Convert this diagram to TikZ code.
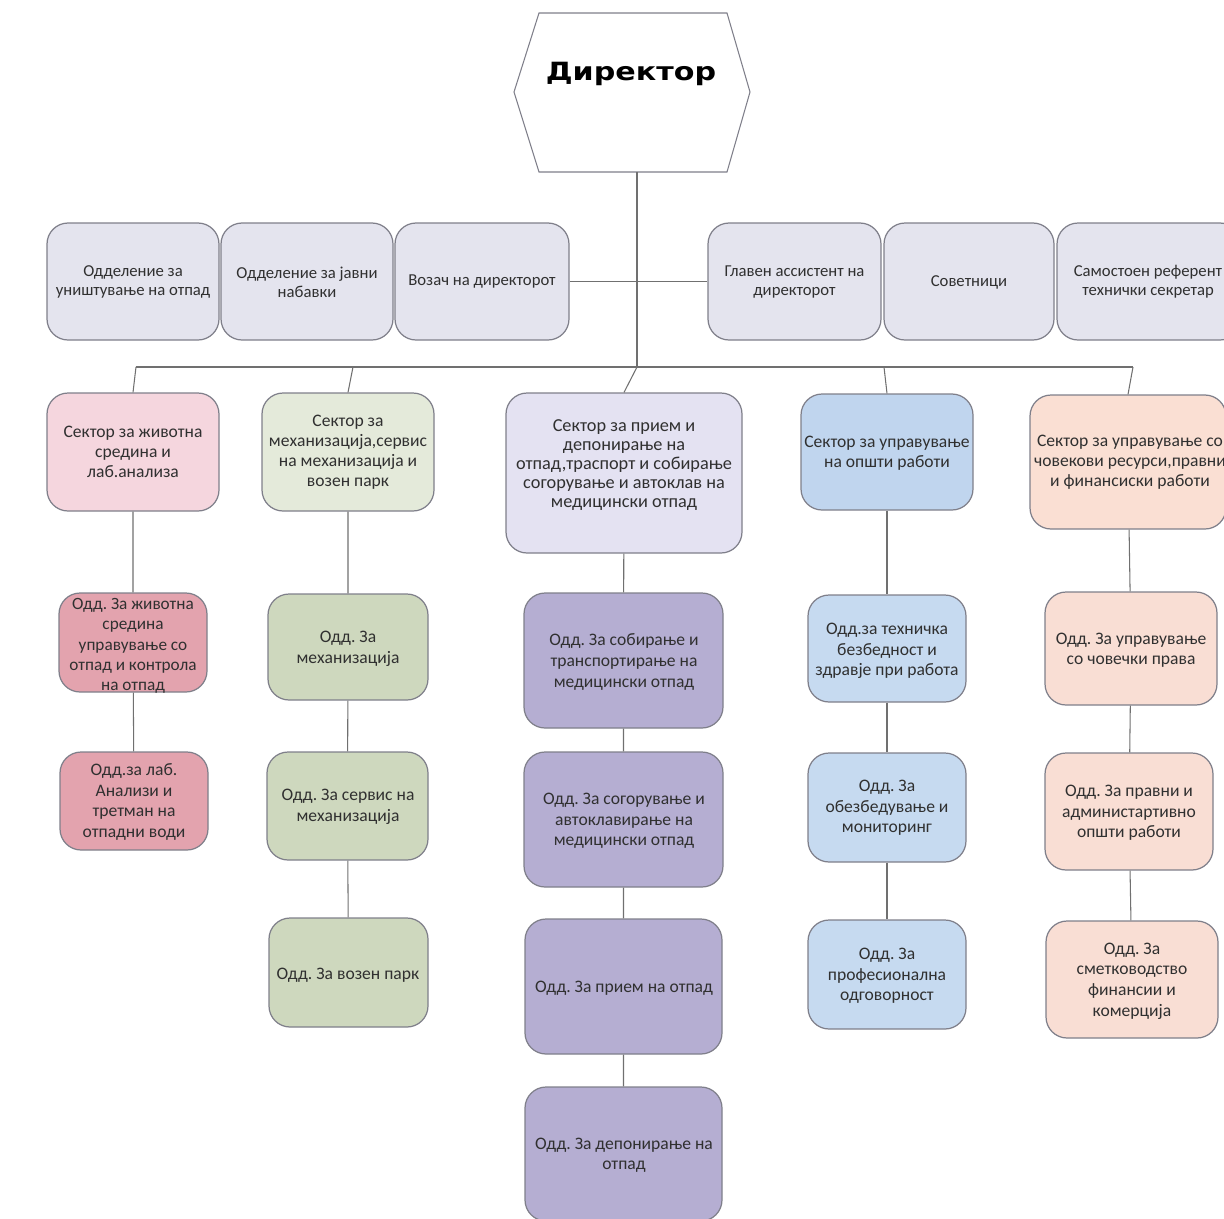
\documentclass[tikz,border=0pt]{standalone}
\usepackage{fontspec}
\setmainfont{Carlito}
\newfontfamily\dirfont{DejaVu Sans}[FakeStretch=1.2]
\frenchspacing
\definecolor{boxgray}{HTML}{E4E4EE}
\definecolor{edgegray}{HTML}{7F7F8A}
\definecolor{linegray}{HTML}{707070}
\definecolor{txtgray}{HTML}{303030}
\definecolor{secpink}{HTML}{F5D6DE}
\definecolor{secgreen}{HTML}{E4EADA}
\definecolor{seclav}{HTML}{E4E2F2}
\definecolor{secblue}{HTML}{C0D5EE}
\definecolor{secpeach}{HTML}{FADFD3}
\definecolor{odpink}{HTML}{E3A3AE}
\definecolor{odgreen}{HTML}{CED8BE}
\definecolor{odpurple}{HTML}{B5AED2}
\definecolor{odblue}{HTML}{C6DAF0}
\definecolor{odpeach}{HTML}{F9DED4}
\tikzset{
  orgbox/.style 2 args={draw=edgegray,line width=0.7pt,rounded corners=12pt,inner sep=0pt,
    minimum width=#1*0.02cm,minimum height=#2*0.02cm},
  lbl/.style={align=center,text=txtgray,inner sep=0pt,font=\fontsize{10}{11.7}\selectfont},
  toplbl/.style={lbl,font=\fontsize{9.5}{10.8}\selectfont},
  seclbl/.style={lbl,font=\fontsize{10}{11.3}\selectfont},
  link/.style={draw=linegray,line width=0.6pt}
}

\begin{document}
\begin{tikzpicture}[x=0.02cm,y=-0.02cm]
\useasboundingbox (0,0) rectangle (1224,1218);
\clip (0,0) rectangle (1224,1218);

\draw[draw=edgegray,line width=0.6pt,fill=white] (539,13) -- (727,13) -- (750,92) -- (727,172)
  -- (539,172) -- (514,92) -- cycle;
\node[inner sep=0pt] (dir) at (631,74) {\dirfont\bfseries\fontsize{14.3}{16}\selectfont Директор};
\coordinate (dirb) at (637,172);

\node[orgbox={172}{117},fill=boxgray] (a1) at (133,281.5) {};
\node[orgbox={172}{117},fill=boxgray] (a2) at (307,281.5) {};
\node[orgbox={174}{117},fill=boxgray] (a3) at (482,281.5) {};
\node[orgbox={173}{117},fill=boxgray] (a4) at (794.5,281.5) {};
\node[orgbox={170}{117},fill=boxgray] (a5) at (969,281.5) {};
\node[orgbox={184}{117},fill=boxgray] (a6) at (1149,281.5) {};
\node[toplbl] (a1t) at (133,282) {Одделение за\\уништување на отпад};
\node[toplbl] (a2t) at (307,282) {Одделение за јавни\\набавки};
\node[toplbl] (a3t) at (482,282) {Возач на директорот};
\node[toplbl] (a4t) at (794.5,282) {Главен ассистент на\\директорот};
\node[toplbl] (a5t) at (969,282) {Советници};
\node[toplbl] (a6t) at (1148,282) {Самостоен референт\\технички секретар};

\node[orgbox={172}{118},fill=secpink] (s1) at (133,452) {};
\node[orgbox={172}{118},fill=secgreen] (s2) at (348,452) {};
\node[orgbox={236}{160},fill=seclav] (s3) at (624,473) {};
\node[orgbox={172}{116},fill=secblue] (s4) at (887,452) {};
\node[orgbox={196}{134},fill=secpeach] (s5) at (1128,462) {};
\node[seclbl] (s1t) at (133,452) {Сектор за животна\\средина и\\лаб.анализа};
\node[seclbl] (s2t) at (348,452) {Сектор за\\механизација,сервис\\на механизација и\\возен парк};
\node[seclbl,font=\fontsize{10.4}{10.9}\selectfont] (s3t) at (624,465) {Сектор за прием и\\депонирање на\\отпад,траспорт и собирање\\согорување и автоклав на\\медицински отпад};
\node[seclbl] (s4t) at (887,453) {Сектор за управување\\на општи работи};
\node[seclbl] (s5t) at (1130,462) {Сектор за управување со\\човекови ресурси,правни\\и финансиски работи};

\node[orgbox={148}{99},fill=odpink] (p1) at (133,642.5) {};
\node[orgbox={148}{98},fill=odpink] (p2) at (134,801) {};
\node[lbl,font=\fontsize{9.8}{11.6}\selectfont] (p1t) at (133,646) {Одд. За животна\\средина\\управување со\\отпад и контрола\\на отпад};
\node[lbl] (p2t) at (134,802) {Одд.за лаб.\\Анализи и\\третман на\\отпадни води};

\node[orgbox={160}{106},fill=odgreen] (g1) at (348,647) {};
\node[orgbox={161}{108},fill=odgreen] (g2) at (347.5,806) {};
\node[orgbox={159}{109},fill=odgreen] (g3) at (348.5,972.5) {};
\node[lbl] (g1t) at (348,649) {Одд. За\\механизација};
\node[lbl] (g2t) at (348,807) {Одд. За сервис на\\механизација};
\node[lbl] (g3t) at (348,975) {Одд. За возен парк};

\node[orgbox={199}{135},fill=odpurple] (u1) at (623.5,660.5) {};
\node[orgbox={199}{135},fill=odpurple] (u2) at (623.5,819.5) {};
\node[orgbox={197}{135},fill=odpurple] (u3) at (623.5,986.5) {};
\node[orgbox={197}{134},fill=odpurple] (u4) at (623.5,1154) {};
\node[lbl] (u1t) at (624,662) {Одд. За собирање и\\транспортирање на\\медицински отпад};
\node[lbl] (u2t) at (624,821) {Одд. За согорување и\\автоклавирање на\\медицински отпад};
\node[lbl] (u3t) at (624,988) {Одд. За прием на отпад};
\node[lbl] (u4t) at (624,1155) {Одд. За депонирање на\\отпад};

\node[orgbox={158}{107},fill=odblue] (b1) at (887,648.5) {};
\node[orgbox={158}{109},fill=odblue] (b2) at (887,807.5) {};
\node[orgbox={158}{109},fill=odblue] (b3) at (887,974.5) {};
\node[lbl] (b1t) at (887,651) {Одд.за техничка\\безбедност и\\здравје при работа};
\node[lbl] (b2t) at (887,808) {Одд. За\\обезбедување и\\мониторинг};
\node[lbl] (b3t) at (887,976) {Одд. За\\професионална\\одговорност};

\node[orgbox={172}{113},fill=odpeach] (r1) at (1131,648.5) {};
\node[orgbox={168}{117},fill=odpeach] (r2) at (1129,811.5) {};
\node[orgbox={172}{117},fill=odpeach] (r3) at (1132,979.5) {};
\node[lbl] (r1t) at (1131,650) {Одд. За управување\\со човечки права};
\node[lbl] (r2t) at (1129,813) {Одд. За правни и\\администартивно\\општи работи};
\node[lbl] (r3t) at (1132,981) {Одд. За\\сметководство\\финансии и\\комерција};

\coordinate (bus1) at (136,367);
\coordinate (bus2) at (353,367);
\coordinate (bus3) at (637,367);
\coordinate (bus4) at (884,367);
\coordinate (bus5) at (1133,367);

\draw[link] (dirb) -- (bus3);
\draw[link] (a3.east) -- (a4.west);
\draw[link] (bus1) -- (bus5);
\draw[link] (bus1) -- (s1.north) (bus2) -- (s2.north) (bus3) -- (s3.north)
  (bus4) -- (s4.north) (bus5) -- (s5.north);
\draw[link] (s1) -- (p1) (p1) -- (p2);
\draw[link] (s2) -- (g1) (g1) -- (g2) (g2) -- (g3);
\draw[link] (s3) -- (u1) (u1) -- (u2) (u2) -- (u3) (u3) -- (u4);
\draw[link] (s4) -- (b1) (b1) -- (b2) (b2) -- (b3);
\draw[link] (s5) -- (r1) (r1) -- (r2) (r2) -- (r3);
\end{tikzpicture}
\end{document}
